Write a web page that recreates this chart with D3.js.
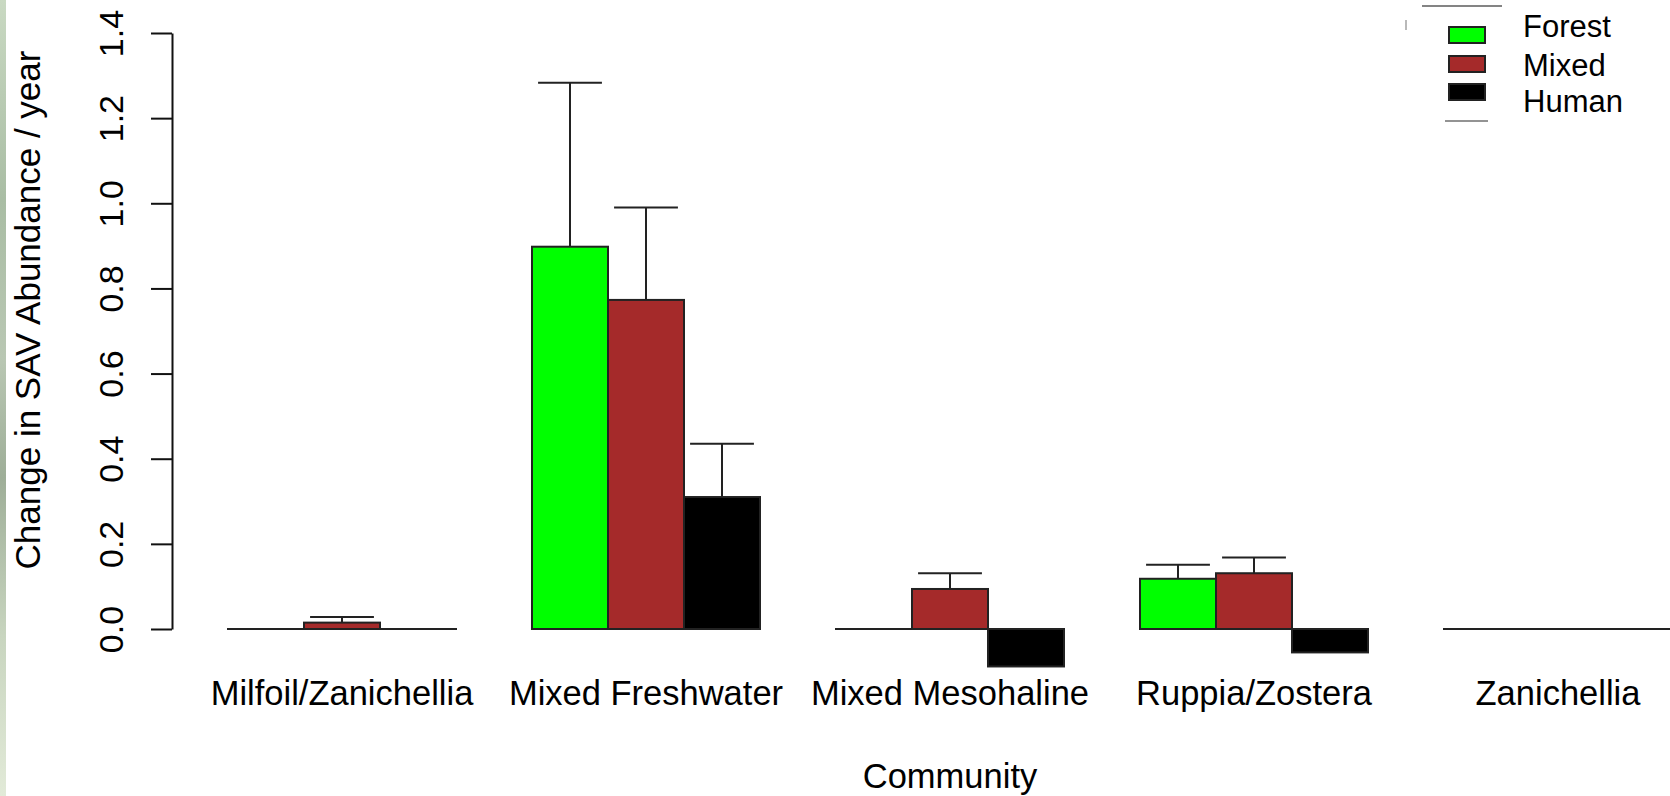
<!DOCTYPE html>
<html lang="en">
<head>
<meta charset="UTF-8">
<title>Change in SAV Abundance by Community</title>
<script src="https://cdn.jsdelivr.net/npm/d3@7"></script>
<style>
  html, body { margin: 0; padding: 0; background: #fff; }
  body { font-family: 'Liberation Sans', Arial, sans-serif; }
  svg text { fill: #000; }
</style>
</head>
<body>
<svg id="chart"></svg>
<script>
// data
const communities = ['Milfoil/Zanichellia', 'Mixed Freshwater', 'Mixed Mesohaline', 'Ruppia/Zostera', 'Zanichellia'];
const landUse = ['Forest', 'Mixed', 'Human'];
const colors = ['#00ff00', '#a52a2a', '#000000'];
const forestVals = [0, 0.898, 0, 0.118, 0];
const mixedVals = [0.015, 0.773, 0.094, 0.131, 0];
const humanVals = [0, 0.31, -0.088, -0.055, 0];
// top of the error bar (mean + se), null = none drawn
const forestErr = [null, 1.283, null, 0.151, null];
const mixedErr = [0.028, 0.99, 0.131, 0.168, null];
const humanErr = [null, 0.435, null, null, null];
const yTicks = [0, 0.2, 0.4, 0.6, 0.8, 1.0, 1.2, 1.4];

const W = 1670, H = 796;
const svg = d3.select('#chart').attr('width', W).attr('height', H);

// faint photo edge on the left
const grad = svg.append('defs').append('linearGradient')
    .attr('id', 'edge').attr('x1', 0).attr('y1', 0).attr('x2', 0).attr('y2', 1);
[['0%', '#c9d9c2'], ['25%', '#a9bda4'], ['45%', '#b9c7b3'], ['60%', '#9eae98'], ['80%', '#c8d5bf'], ['100%', '#e2ead8']]
    .forEach(s => grad.append('stop').attr('offset', s[0]).attr('stop-color', s[1]));
svg.append('rect').attr('x', 0).attr('y', 0).attr('width', 6).attr('height', H).attr('fill', 'url(#edge)');

// bar positions in bar-width units, like R barplot(beside = TRUE)
const x = d3.scaleLinear().domain([0, 20]).range([152, 1672]);
const y = d3.scaleLinear().domain([0, 1.4]).range([629, 33]);

const rows = [];
communities.forEach((c, g) => {
  [forestVals, mixedVals, humanVals].forEach((vals, s) => {
    const errs = [forestErr, mixedErr, humanErr][s];
    rows.push({ community: c, g, s, value: vals[g], err: errs[g], u: 1 + 4 * g + s });
  });
});

const plot = svg.append('g');

plot.selectAll('rect.bar')
  .data(rows.filter(d => d.value !== 0))
  .enter().append('rect')
    .attr('class', 'bar')
    .attr('x', d => x(d.u))
    .attr('width', d => x(d.u + 1) - x(d.u))
    .attr('y', d => y(Math.max(0, d.value)))
    .attr('height', d => Math.abs(y(d.value) - y(0)))
    .attr('fill', d => colors[d.s])
    .attr('stroke', '#222')
    .attr('stroke-width', 2);

// zero-height bars only show their outline
plot.selectAll('line.zero')
  .data(rows.filter(d => d.value === 0))
  .enter().append('line')
    .attr('class', 'zero')
    .attr('x1', d => x(d.u) - 1).attr('x2', d => x(d.u + 1) + 1)
    .attr('y1', y(0)).attr('y2', y(0))
    .attr('stroke', '#222').attr('stroke-width', 2);

const eb = rows.filter(d => d.err !== null);
plot.selectAll('line.whisker')
  .data(eb)
  .enter().append('line')
    .attr('class', 'whisker')
    .attr('x1', d => x(d.u + 0.5)).attr('x2', d => x(d.u + 0.5))
    .attr('y1', d => y(d.value)).attr('y2', d => y(d.err))
    .attr('stroke', '#222').attr('stroke-width', 2);
plot.selectAll('line.cap')
  .data(eb)
  .enter().append('line')
    .attr('class', 'cap')
    .attr('x1', d => x(d.u + 0.08)).attr('x2', d => x(d.u + 0.92))
    .attr('y1', d => y(d.err)).attr('y2', d => y(d.err))
    .attr('stroke', '#222').attr('stroke-width', 2);

// y axis
const yAxis = svg.append('g')
    .attr('transform', 'translate(172,0)')
    .call(d3.axisLeft(y).tickValues(yTicks).tickSize(21).tickSizeOuter(0).tickFormat(d3.format('.1f')));
yAxis.select('.domain').attr('stroke', '#111').attr('stroke-width', 2);
yAxis.selectAll('.tick line').attr('stroke', '#111').attr('stroke-width', 2);
yAxis.selectAll('.tick text')
    .attr('x', 0).attr('dy', 0)
    .attr('transform', 'translate(-49,0) rotate(-90)')
    .attr('text-anchor', 'middle')
    .style('font-family', "'Liberation Sans', Arial, sans-serif")
    .style('font-size', '34px')
    .attr('fill', '#000');

// category labels
svg.append('g').selectAll('text')
  .data(communities)
  .enter().append('text')
    .attr('x', (d, i) => x(1 + 4 * i + 1.5))
    .attr('y', 705)
    .attr('text-anchor', 'middle')
    .style('font-size', '34.5px')
    .text(d => d);

svg.append('text')
    .attr('x', x(10.5)).attr('y', 788)
    .attr('text-anchor', 'middle')
    .style('font-size', '34.5px')
    .text('Community');

svg.append('text')
    .attr('transform', 'translate(40,310) rotate(-90)')
    .attr('text-anchor', 'middle')
    .style('font-size', '35px')
    .text('Change in SAV Abundance / year');

// legend (box edges were cropped off in the source)
const leg = svg.append('g');
const rectY = [27, 56, 84];
const textY = [37, 76, 112];
leg.selectAll('rect')
  .data(landUse)
  .enter().append('rect')
    .attr('x', 1449).attr('y', (d, i) => rectY[i])
    .attr('width', 36).attr('height', 16)
    .attr('fill', (d, i) => colors[i])
    .attr('stroke', '#222').attr('stroke-width', 2);
leg.selectAll('text')
  .data(landUse)
  .enter().append('text')
    .attr('x', 1523).attr('y', (d, i) => textY[i])
    .style('font-size', '31px')
    .text(d => d);
leg.append('line').attr('x1', 1422).attr('x2', 1502).attr('y1', 6).attr('y2', 6)
    .attr('stroke', '#333').attr('stroke-width', 1.5).attr('opacity', 0.8);
leg.append('line').attr('x1', 1406).attr('x2', 1406).attr('y1', 20).attr('y2', 30)
    .attr('stroke', '#666').attr('stroke-width', 1.5).attr('opacity', 0.6);
leg.append('line').attr('x1', 1445).attr('x2', 1488).attr('y1', 121).attr('y2', 121)
    .attr('stroke', '#333').attr('stroke-width', 1.5).attr('opacity', 0.7);
</script>
</body>
</html>
